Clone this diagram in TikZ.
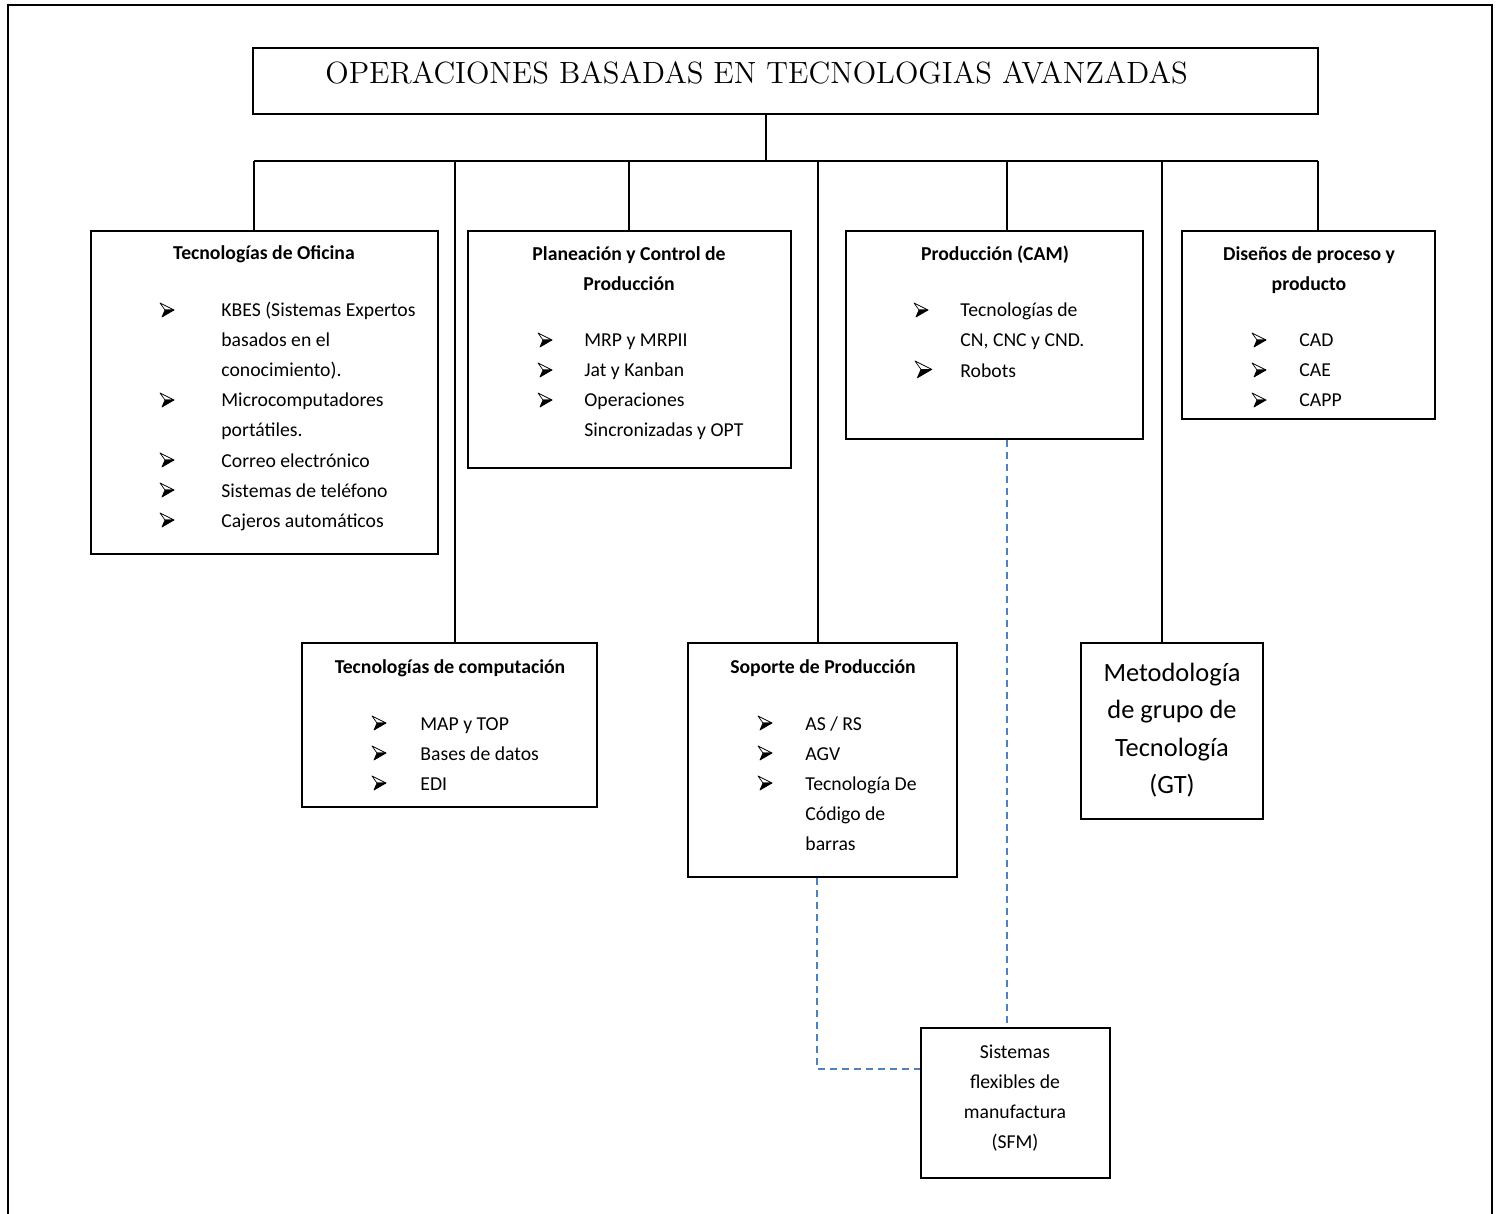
\documentclass[tikz,border=0pt]{standalone}
\usepackage{fontspec}
\newfontfamily\bodyfam{Carlito}
\usetikzlibrary{fit}
\definecolor{linkblue}{HTML}{4F81BD}
\newcommand\txtfont{\bodyfam\fontsize{9.85}{15}\selectfont}
\newcommand\bigtxtfont{\bodyfam\fontsize{13.2}{18.75}\selectfont}
\newcommand\headfont{\bodyfam\bfseries\fontsize{9.85}{15}\selectfont}
\tikzset{
  frame/.style={line width=1.3pt},
  titlebox/.style={draw, line width=1pt, inner sep=0},
  box/.style={draw, line width=0.65pt, inner sep=0},
  bus/.style={line width=1pt},
  drop/.style={line width=0.7pt},
  sfmlink/.style={draw=linkblue, line width=0.75pt, dash pattern=on 3.5pt off 2.5pt},
  ln/.style={anchor=base west, inner sep=0, font=\txtfont},
  hd/.style={anchor=base, inner sep=0, font=\headfont},
  ctr/.style={anchor=base, inner sep=0, font=\txtfont},
  bigctr/.style={anchor=base, inner sep=0, font=\bigtxtfont},
  % list marker: a shaded arrowhead pointing right, placed by its top left corner
  pics/ptr/.style={code={
    \filldraw[fill=white, line width=0.35pt, line join=round] (0,0) -- (14,7) -- (5,7) -- cycle;
    \filldraw[fill=black, line width=0.35pt, line join=round] (5,7) -- (14,7) -- (2,14) -- cycle;
  }}
}
\begin{document}
\begin{tikzpicture}[x=0.5pt, y=-0.5pt]
\useasboundingbox (0,0) rectangle (1500,1214);

% page frame, open at the bottom
\draw[frame] (8,1230) -- (8,5) -- (1492,5) -- (1492,1230);

% heading
\node[titlebox, fit={(253,48) (1318,114)}] (title) {};
\node[anchor=base west, inner sep=0, font=\fontsize{14.9}{17}\selectfont] (title-txt) at (325,83.5)
  {\scalebox{1.03}{OPERACIONES BASADAS EN TECNOLOGIAS AVANZADAS}};

% category boxes
\node[box, fit={(91,231) (438,554)}] (ofi) {};
\node[box, fit={(468,231) (791,468)}] (pla) {};
\node[box, fit={(846,231) (1143,439)}] (cam) {};
\node[box, fit={(1182,231) (1435,419)}] (dis) {};
\node[box, fit={(302,643) (597,807)}] (com) {};
\node[box, fit={(688,643) (957,877)}] (sop) {};
\node[box, fit={(1081,643) (1263,819)}] (met) {};
\node[box, fit={(921,1028) (1110,1178)}] (sfm) {};

% tree connectors
\coordinate (trunk) at (766,161);
\coordinate (b1) at (254,161);
\coordinate (b2) at (455,161);
\coordinate (b3) at (629,161);
\coordinate (b4) at (818,161);
\coordinate (b5) at (1007,161);
\coordinate (b6) at (1162,161);
\coordinate (b7) at (1318,161);
\draw[drop] (title.south -| trunk) -- (trunk);
\draw[bus] (b1) -- (b7);
\draw[drop] (b1) -- (b1 |- ofi.north);
\draw[drop] (b2) -- (b2 |- com.north);
\draw[drop] (b3) -- (b3 |- pla.north);
\draw[drop] (b4) -- (b4 |- sop.north);
\draw[drop] (b5) -- (b5 |- cam.north);
\draw[drop] (b6) -- (b6 |- met.north);
\draw[drop] (b7) -- (b7 |- dis.north);

% links to the flexible manufacturing box
\coordinate (s1) at (817,1069);
\coordinate (s2) at (1007,1069);
\draw[sfmlink] (sop.south -| s1) |- (sfm.west |- s1);
\draw[sfmlink] (cam.south -| s2) -- (sfm.north -| s2);

% Tecnologías de Oficina
\node[hd] (ofi-h) at (264,260) {Tecnologías de Oficina};
\pic (ofi-p1) at (160,303) {ptr};
\node[ln] (ofi-1) at (221,317) {KBES (Sistemas Expertos};
\node[ln] (ofi-2) at (221,347) {basados en el};
\node[ln] (ofi-3) at (221,377) {conocimiento).};
\pic (ofi-p2) at (160,393) {ptr};
\node[ln] (ofi-4) at (221,407) {Microcomputadores};
\node[ln] (ofi-5) at (221,437) {portátiles.};
\pic (ofi-p3) at (160,453) {ptr};
\node[ln] (ofi-6) at (221,467) {Correo electrónico};
\pic (ofi-p4) at (160,483) {ptr};
\node[ln] (ofi-7) at (221,497) {Sistemas de teléfono};
\pic (ofi-p5) at (160,513) {ptr};
\node[ln] (ofi-8) at (221,527) {Cajeros automáticos};

% Planeación y Control de Producción
\node[hd] (pla-h1) at (629,261) {Planeación y Control de};
\node[hd] (pla-h2) at (629,291) {Producción};
\pic (pla-p1) at (538,333) {ptr};
\node[ln] (pla-1) at (584,347) {MRP y MRPII};
\pic (pla-p2) at (538,363) {ptr};
\node[ln] (pla-2) at (584,377) {Jat y Kanban};
\pic (pla-p3) at (538,393) {ptr};
\node[ln] (pla-3) at (584,407) {Operaciones};
\node[ln] (pla-4) at (584,437) {Sincronizadas y OPT};

% Producción (CAM)
\node[hd] (cam-h) at (995,261) {Producción (CAM)};
\pic (cam-p1) at (914,303) {ptr};
\node[ln] (cam-1) at (960,317) {Tecnologías de};
\node[ln] (cam-2) at (960,347) {CN, CNC y CND.};
\pic[scale=1.2] (cam-p2) at (915,361) {ptr};
\node[ln] (cam-3) at (960,378) {Robots};

% Diseños de proceso y producto
\node[hd] (dis-h1) at (1309,261) {Diseños de proceso y};
\node[hd] (dis-h2) at (1309,291) {producto};
\pic (dis-p1) at (1252,333) {ptr};
\node[ln] (dis-1) at (1299,347) {CAD};
\pic (dis-p2) at (1252,363) {ptr};
\node[ln] (dis-2) at (1299,377) {CAE};
\pic (dis-p3) at (1252,393) {ptr};
\node[ln] (dis-3) at (1299,407) {CAPP};

% Tecnologías de computación
\node[hd] (com-h) at (450,673) {Tecnologías de computación};
\pic (com-p1) at (372,716) {ptr};
\node[ln] (com-1) at (420,730) {MAP y TOP};
\pic (com-p2) at (372,746) {ptr};
\node[ln] (com-2) at (420,760) {Bases de datos};
\pic (com-p3) at (372,776) {ptr};
\node[ln] (com-3) at (420,790) {EDI};

% Soporte de Producción
\node[hd] (sop-h) at (823,673) {Soporte de Producción};
\pic (sop-p1) at (758,716) {ptr};
\node[ln] (sop-1) at (805,730) {AS / RS};
\pic (sop-p2) at (758,746) {ptr};
\node[ln] (sop-2) at (805,760) {AGV};
\pic (sop-p3) at (758,776) {ptr};
\node[ln] (sop-3) at (805,790) {Tecnología De};
\node[ln] (sop-4) at (805,820) {Código de};
\node[ln] (sop-5) at (805,850) {barras};

% Metodología de grupo de Tecnología
\node[bigctr] (met-1) at (1172,681) {Metodología};
\node[bigctr] (met-2) at (1172,718) {de grupo de};
\node[bigctr] (met-3) at (1172,756) {Tecnología};
\node[bigctr] (met-4) at (1172,793) {(GT)};

% Sistemas flexibles de manufactura
\node[ctr] (sfm-1) at (1015,1058) {Sistemas};
\node[ctr] (sfm-2) at (1015,1088) {flexibles de};
\node[ctr] (sfm-3) at (1015,1118) {manufactura};
\node[ctr] (sfm-4) at (1015,1148) {(SFM)};
\end{tikzpicture}
\end{document}
